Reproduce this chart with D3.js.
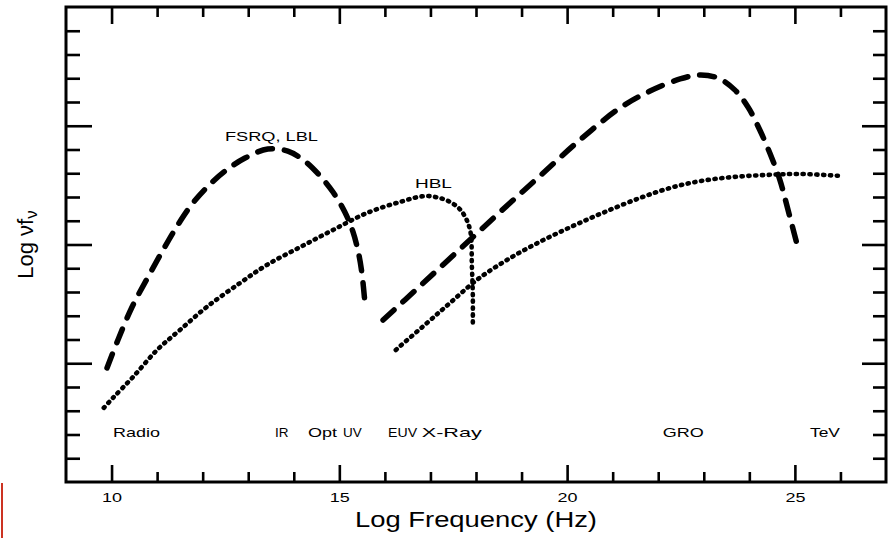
<!DOCTYPE html>
<html>
<head>
<meta charset="utf-8">
<script src="https://cdn.jsdelivr.net/npm/d3@7"></script>
<style>
  body { margin: 0; background: #fff; }
  svg { display: block; }
  text { font-family: "Liberation Sans", Arial, Helvetica, sans-serif; fill: #000; }
</style>
</head>
<body>
<svg id="chart" width="888" height="538"></svg>
<script>
// log(nu) vs log(nu f_nu)
const fsrqSync = [
  [9.90, 4.80], [10.14, 5.98], [10.45, 7.37], [10.80, 8.63], [11.13, 9.77],
  [11.44, 10.78], [11.77, 11.71], [12.12, 12.46], [12.49, 13.09], [12.93, 13.64],
  [13.43, 14.02], [13.87, 13.93], [14.25, 13.50], [14.58, 12.88], [14.86, 12.21],
  [15.12, 11.37], [15.30, 10.53], [15.43, 9.56], [15.50, 8.72], [15.56, 7.58]
];
const fsrqCompton = [
  [15.96, 6.82], [16.77, 8.25], [17.65, 9.81], [18.53, 11.37], [19.40, 12.88],
  [20.28, 14.40], [21.16, 15.75], [21.82, 16.46], [22.48, 16.97], [22.92, 17.14],
  [23.31, 17.01], [23.68, 16.51], [23.97, 15.79], [24.23, 14.82], [24.45, 13.85],
  [24.67, 12.72], [24.85, 11.45], [25.04, 10.06]
];
const hblSync = [
  [9.83, 3.12], [10.03, 3.54], [10.47, 4.42], [11.00, 5.56], [11.50, 6.40],
  [12.09, 7.37], [12.82, 8.38], [13.41, 9.14], [14.14, 9.89], [14.86, 10.61],
  [15.61, 11.33], [16.33, 11.79], [16.88, 12.04], [17.27, 11.92], [17.54, 11.66],
  [17.71, 11.33], [17.87, 10.61], [17.91, 9.05], [17.93, 7.87], [17.93, 6.61]
];
const hblCompton = [
  [16.24, 5.56], [16.92, 6.69], [17.43, 7.54], [18.02, 8.51], [18.68, 9.35],
  [19.40, 10.11], [20.13, 10.78], [20.83, 11.37], [21.60, 11.96], [22.26, 12.38],
  [22.92, 12.67], [23.64, 12.84], [24.39, 12.93], [25.11, 12.97], [26.05, 12.88]
];

// band names and the log frequency where each label starts
const bandNames = ["Radio", "IR", "Opt", "UV", "EUV", "X-Ray", "GRO", "TeV"];
const bandStart = [10.03, 13.59, 14.31, 15.08, 16.07, 16.81, 22.10, 25.33];

const curveNames = ["FSRQ, LBL", "HBL"];
const curveLabelPos = [[12.49, 14.36], [16.66, 12.38]];

const xMajorTicks = [10, 15, 20, 25];
const xTickLabels = ["10", "15", "20", "25"];
const xMinorTicks = [11, 12, 13, 14, 16, 17, 18, 19, 21, 22, 23, 24, 26];
const yMajorTicks = [5, 10, 15];
const yMinorTicks = [1, 2, 3, 4, 6, 7, 8, 9, 11, 12, 13, 14, 16, 17, 18, 19];

// widths the labels take in the picture (the original font is wide)
const labelWidth = {
  "Radio": 47, "IR": 13, "Opt": 29, "UV": 17, "EUV": 29, "X-Ray": 60,
  "GRO": 41, "TeV": 30, "FSRQ, LBL": 93, "HBL": 37
};

const width = 888, height = 538;
const plot = { left: 66, right: 886, top: 7, bottom: 482 };

const svg = d3.select("#chart");

const xScale = d3.scaleLinear().domain([9, 27]).range([plot.left, plot.right]);
const yScale = d3.scaleLinear().domain([0, 20]).range([plot.bottom, plot.top]);

// widen a label to the width it has in the picture, never squeeze it
function stretch(sel, w) {
  sel.each(function () {
    if (this.getComputedTextLength() < w) {
      d3.select(this).attr("textLength", w).attr("lengthAdjust", "spacingAndGlyphs");
    }
  });
}

function tickAxis(axis, values, size, transform) {
  const g = svg.append("g")
    .attr("transform", transform)
    .call(axis.tickValues(values).tickSize(-size).tickFormat(""));
  g.select(".domain").remove();
  g.selectAll(".tick line").attr("stroke", "#000").attr("stroke-width", 2.6);
  return g;
}

// minor ticks all round
tickAxis(d3.axisBottom(xScale), xMinorTicks, 10, `translate(0,${plot.bottom})`);
tickAxis(d3.axisTop(xScale), xMinorTicks, 10, `translate(0,${plot.top})`);
tickAxis(d3.axisLeft(yScale), yMinorTicks, 14, `translate(${plot.left},0)`);
tickAxis(d3.axisRight(yScale), yMinorTicks, 13, `translate(${plot.right},0)`);
// major ticks
tickAxis(d3.axisTop(xScale), xMajorTicks, 17, `translate(0,${plot.top})`);
tickAxis(d3.axisLeft(yScale), yMajorTicks, 26, `translate(${plot.left},0)`);
tickAxis(d3.axisRight(yScale), yMajorTicks, 24, `translate(${plot.right},0)`);

const xAxis = svg.append("g")
  .attr("transform", `translate(0,${plot.bottom})`)
  .call(d3.axisBottom(xScale)
    .tickValues(xMajorTicks)
    .tickSize(-17)
    .tickPadding(11)
    .tickFormat((d, i) => xTickLabels[i]));
xAxis.select(".domain").remove();
xAxis.selectAll(".tick line").attr("stroke", "#000").attr("stroke-width", 2.6);
xAxis.selectAll(".tick text")
  .style("font-family", "'Liberation Sans', Arial, sans-serif")
  .attr("font-size", 12.5)
  .attr("fill", "#000")
  .call(stretch, 20);

// frame
svg.append("rect")
  .attr("x", plot.left)
  .attr("y", plot.top)
  .attr("width", plot.right - plot.left)
  .attr("height", plot.bottom - plot.top)
  .attr("fill", "none")
  .attr("stroke", "#000")
  .attr("stroke-width", 3);

const line = d3.line()
  .x((d) => xScale(d[0]))
  .y((d) => yScale(d[1]))
  .curve(d3.curveCatmullRom.alpha(0.5));

const curves = svg.append("g").attr("class", "curves");

[fsrqSync, fsrqCompton].forEach((pts) => {
  curves.append("path")
    .attr("d", line(pts))
    .attr("fill", "none")
    .attr("stroke", "#000")
    .attr("stroke-width", 5.5)
    .attr("stroke-linecap", "round")
    .attr("stroke-dasharray", "15 12");
});

[hblSync, hblCompton].forEach((pts) => {
  curves.append("path")
    .attr("d", line(pts))
    .attr("fill", "none")
    .attr("stroke", "#000")
    .attr("stroke-width", 4.6)
    .attr("stroke-linecap", "round")
    .attr("stroke-dasharray", "1.2 5.6");
});

// band labels along the bottom
svg.append("g")
  .selectAll("text")
  .data(bandNames)
  .join("text")
  .attr("x", (d, i) => xScale(bandStart[i]))
  .attr("y", 437)
  .attr("font-size", 13.5)
  .text((d) => d)
  .each(function (d) { d3.select(this).call(stretch, labelWidth[d]); });

// curve labels
svg.append("g")
  .selectAll("text")
  .data(curveNames)
  .join("text")
  .attr("x", (d, i) => xScale(curveLabelPos[i][0]))
  .attr("y", (d, i) => yScale(curveLabelPos[i][1]))
  .attr("font-size", 13)
  .text((d) => d)
  .each(function (d) { d3.select(this).call(stretch, labelWidth[d]); });

// axis titles
svg.append("text")
  .attr("x", (plot.left + plot.right) / 2)
  .attr("y", 527)
  .attr("text-anchor", "middle")
  .attr("font-size", 22)
  .text("Log Frequency (Hz)")
  .call(stretch, 242);

const yTitle = svg.append("text")
  .attr("transform", `translate(33,${(plot.top + plot.bottom) / 2}) rotate(-90)`)
  .attr("text-anchor", "middle")
  .attr("font-size", 22);
yTitle.append("tspan").text("Log νf");
yTitle.append("tspan").attr("dy", 4).attr("font-size", 17).text("ν");

// thin red edge seen at the lower left of the picture
svg.append("rect")
  .attr("x", 1)
  .attr("y", 483)
  .attr("width", 2)
  .attr("height", height - 483)
  .attr("fill", "#cc3322");
</script>
</body>
</html>
